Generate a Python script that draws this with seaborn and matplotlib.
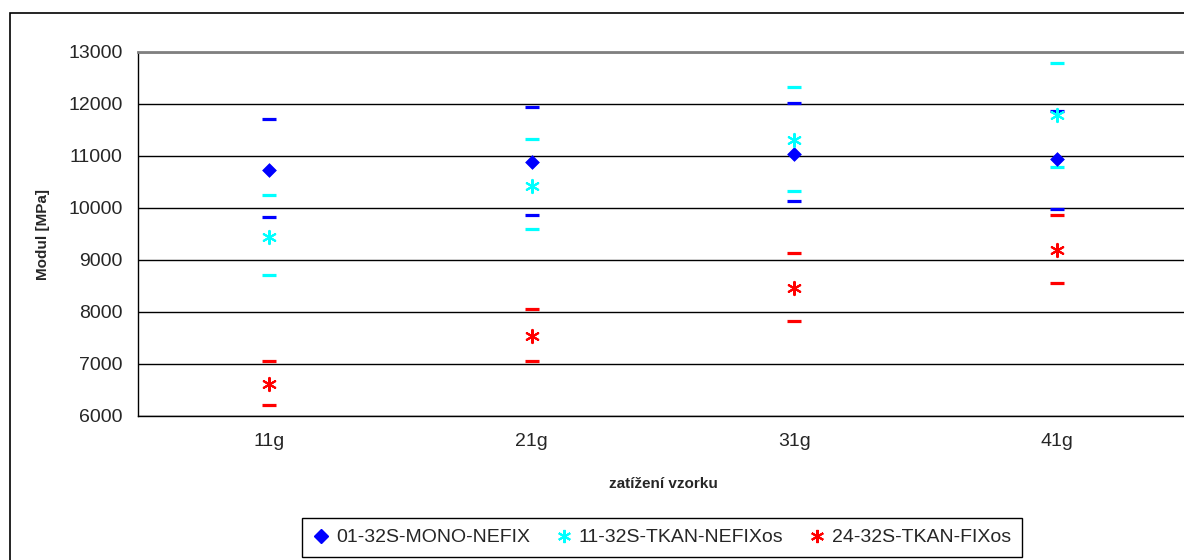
import numpy as np
import pandas as pd
import seaborn as sns
from matplotlib import pyplot as plt
from matplotlib.lines import Line2D
from matplotlib.patches import Rectangle


# Daten
zatizeni = ["11g", "21g", "31g", "41g"]

mono_prumer = [10740, 10880, 11030, 10940]
mono_max = [11710, 11950, 12020, 11870]
mono_min = [9830, 9860, 10140, 9990]

nefix_prumer = [9450, 10420, 11310, 11780]
nefix_max = [10250, 11330, 12330, 12790]
nefix_min = [8720, 9600, 10320, 10790]

fix_prumer = [6620, 7530, 8460, 9200]
fix_max = [7060, 8060, 9140, 9870]
fix_min = [6220, 7060, 7830, 8560]

nazvy = ["01-32S-MONO-NEFIX", "11-32S-TKAN-NEFIXos", "24-32S-TKAN-FIXos"]

sns.set_style("white")
plt.rcParams['font.family'] = ['Liberation Sans', 'DejaVu Sans']

fig = plt.figure(figsize=(11.84, 5.6), dpi=100)
ax = fig.add_axes([138 / 1184, 144 / 560, 1050 / 1184, 364 / 560])

asterisk = (6, 2, 0)
serie = [
    (mono_prumer, mono_min, mono_max, "#0000FF", "D"),
    (nefix_prumer, nefix_min, nefix_max, "#00FFFF", asterisk),
    (fix_prumer, fix_min, fix_max, "#FF0000", asterisk),
]

for prumer, mn, mx, barva, znak in serie:
    for hodnoty in (mn, mx):
        sns.scatterplot(x=zatizeni, y=hodnoty, marker="_", s=100, color=barva,
                        linewidth=2.3, ax=ax, zorder=3)
    if znak == "D":
        sns.scatterplot(x=zatizeni, y=prumer, marker="D", s=49, color=barva,
                        edgecolor=barva, linewidth=0.5, ax=ax, zorder=4)
    else:
        sns.scatterplot(x=zatizeni, y=prumer, marker=znak, s=90, color=barva,
                        linewidth=1.5, ax=ax, zorder=4)

ax.set_xlim(-0.5, 3.5)
ax.set_ylim(6000, 13000)
ax.set_yticks(np.arange(6000, 13001, 1000))
ax.set_xticks(range(len(zatizeni)))
ax.set_xticklabels(zatizeni)
ax.set_xticks([-0.5, 0.5, 1.5, 2.5], minor=True)
ax.tick_params(axis="x", which="major", length=0, pad=12.5, labelsize=14)
ax.tick_params(axis="x", which="minor", length=6, width=1, color="black", direction="out")
ax.tick_params(axis="y", length=6, width=1, color="black", direction="out", pad=5, labelsize=14)

ax.yaxis.grid(True, color="black", lw=1)
ax.set_axisbelow(True)

for s in ["left", "bottom"]:
    ax.spines[s].set_color("black")
    ax.spines[s].set_linewidth(1)
ax.spines["top"].set_color("#808080")
ax.spines["top"].set_linewidth(2)
ax.spines["right"].set_visible(False)

ax.set_ylabel("Modul [MPa]", fontsize=11, fontweight="bold")
ax.yaxis.set_label_coords((50 - 138) / 1050, 0.5)
ax.set_xlabel("zatížení vzorku", fontsize=11, fontweight="bold")
ax.xaxis.set_label_coords(0.5, (416 - 477) / 364)

handles = [
    Line2D([], [], marker="D", ls="none", color="#0000FF", ms=7),
    Line2D([], [], marker=asterisk, ls="none", color="#00FFFF", ms=9.5, mew=1.5),
    Line2D([], [], marker=asterisk, ls="none", color="#FF0000", ms=9.5, mew=1.5),
]
leg = fig.legend(handles, nazvy, loc="upper left", bbox_to_anchor=(302 / 1184, 1 - 518 / 560),
                 ncol=3, frameon=True, fancybox=False, edgecolor="black", framealpha=1,
                 fontsize=14, handlelength=0.9, handletextpad=0.3, columnspacing=1.3,
                 borderpad=0.55, borderaxespad=0)
leg.get_frame().set_linewidth(1)

# Rahmen um das ganze Diagramm
fig.add_artist(Rectangle((10 / 1184, -0.05), 1.2, 547 / 560 + 0.05, transform=fig.transFigure,
                         fill=False, edgecolor="black", lw=1.2, clip_on=False))

fig.savefig("out.png", dpi=100)
